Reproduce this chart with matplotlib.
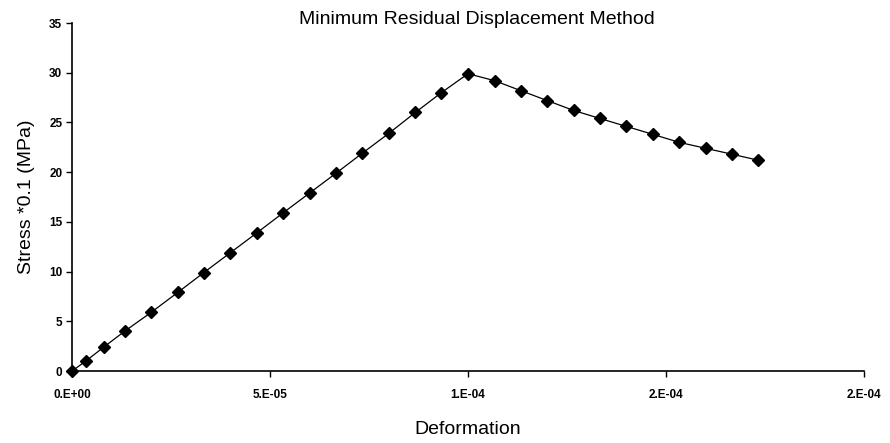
import matplotlib
matplotlib.use("Agg")
import matplotlib.pyplot as plt
from matplotlib.ticker import FuncFormatter, MultipleLocator

# deformation (x) and stress*0.1 (y)
deformation = [0.0, 3.5e-6, 8.0e-6, 1.33e-5, 2.0e-5, 2.67e-5, 3.33e-5, 4.0e-5,
               4.67e-5, 5.33e-5, 6.0e-5, 6.67e-5, 7.33e-5, 8.0e-5, 8.67e-5,
               9.33e-5, 1.0e-4, 1.067e-4, 1.133e-4, 1.2e-4, 1.267e-4, 1.333e-4,
               1.4e-4, 1.467e-4, 1.533e-4, 1.6e-4, 1.667e-4, 1.733e-4]
stress = [0.0, 1.0, 2.4, 4.0, 5.9, 7.9, 9.9, 11.9,
          13.9, 15.9, 17.9, 19.9, 21.9, 23.9, 26.0,
          28.0, 29.9, 29.2, 28.2, 27.2, 26.2, 25.4,
          24.6, 23.8, 23.0, 22.4, 21.8, 21.2]

plt.rcParams['font.family'] = ['Liberation Sans', 'DejaVu Sans']

fig = plt.figure(figsize=(8.9, 4.43), dpi=100)
ax = fig.add_axes([72 / 890, 72 / 443, 792 / 890, 348 / 443])

ax.plot(deformation, stress, color='black', lw=0.9, marker='D',
        markersize=6, markerfacecolor='black', markeredgecolor='black',
        clip_on=False, zorder=3)

ax.set_xlim(0, 2e-4)
ax.set_ylim(0, 35)
ax.xaxis.set_major_locator(MultipleLocator(5e-5))
ax.yaxis.set_major_locator(MultipleLocator(5))
ax.xaxis.set_major_formatter(FuncFormatter(lambda v, p: '%#.0E' % v))

for s in ['top', 'right']:
    ax.spines[s].set_visible(False)
for s in ['left', 'bottom']:
    ax.spines[s].set_linewidth(1.2)

ax.tick_params(direction='out', length=4, width=1, labelsize=8.5, pad=3)
for lab in ax.get_xticklabels() + ax.get_yticklabels():
    lab.set_fontweight('bold')
ax.tick_params(axis='x', pad=9)

fig.text(477 / 890, 1 - 20 / 443, 'Minimum Residual Displacement Method',
         ha='center', va='center', fontsize=14)
ax.set_xlabel('Deformation', fontsize=14, labelpad=14)
ax.set_ylabel('Stress *0.1 (MPa)', fontsize=14, labelpad=10)

fig.savefig('out.png', dpi=100)
